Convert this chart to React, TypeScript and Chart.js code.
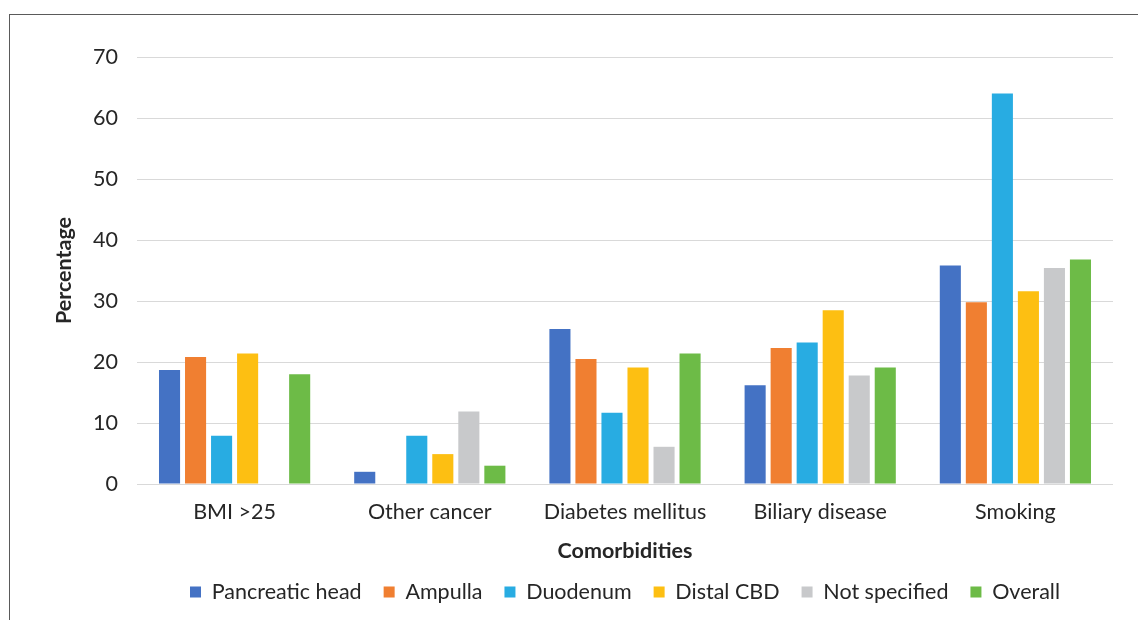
import React, { useEffect, useRef } from "react";
import { Chart, registerables } from "chart.js";

Chart.register(...registerables);

const categories = ["BMI >25", "Other cancer", "Diabetes mellitus", "Biliary disease", "Smoking"];

const pancreaticHead = [18.7, 2.0, 25.4, 16.2, 35.8];
const ampulla = [20.8, 0, 20.5, 22.3, 29.8];
const duodenum = [7.9, 7.9, 11.7, 23.2, 64.0];
const distalCBD = [21.4, 4.9, 19.1, 28.5, 31.6];
const notSpecified = [0, 11.9, 6.1, 17.8, 35.4];
const overall = [18.0, 3.0, 21.4, 19.1, 36.8];

const seriesNames = ["Pancreatic head", "Ampulla", "Duodenum", "Distal CBD", "Not specified", "Overall"];
const seriesColors = ["#4472C4", "#F07F31", "#28ACE2", "#FDBF12", "#C8C9CB", "#6DBB47"];
const seriesValues = [pancreaticHead, ampulla, duodenum, distalCBD, notSpecified, overall];

const yTicks = { min: 0, max: 70, step: 10 };

const FONT = "Lato, 'Open Sans', sans-serif";
const TEXT = "#262626";
const SIZE = 21.5;

export default function App() {
  const canvasRef = useRef<HTMLCanvasElement | null>(null);

  useEffect(() => {
    if (!canvasRef.current) return;
    const chart = new Chart(canvasRef.current, {
      type: "bar",
      data: {
        labels: categories,
        datasets: seriesNames.map((name, i) => ({
          label: name,
          data: seriesValues[i],
          backgroundColor: seriesColors[i],
          borderWidth: 0,
          categoryPercentage: 0.8,
          barPercentage: 0.81,
        })),
      },
      options: {
        responsive: false,
        animation: false,
        layout: { padding: { top: 42, left: 0, right: 127, bottom: 2.25 } },
        plugins: {
          tooltip: { enabled: false },
          legend: {
            position: "bottom",
            fullSize: false,
            labels: {
              boxWidth: 11,
              boxHeight: 11,
              padding: 22,
              color: TEXT,
              font: { family: FONT, size: SIZE },
            },
          },
        },
        scales: {
          x: {
            grid: { display: false, drawTicks: false },
            border: { display: false },
            ticks: { color: TEXT, padding: 15, font: { family: FONT, size: SIZE } },
            title: {
              display: true,
              text: "Comorbidities",
              color: TEXT,
              font: { family: FONT, size: SIZE, weight: "bold" },
              padding: { top: 0, bottom: -4.65 },
            },
            afterFit: (scale: any) => {
              scale.height = 75.25;
            },
          },
          y: {
            min: yTicks.min,
            max: yTicks.max,
            grid: { color: "#D9D9D9", lineWidth: 1, drawTicks: false },
            border: { display: false },
            ticks: {
              stepSize: yTicks.step,
              color: TEXT,
              padding: 19,
              font: { family: FONT, size: SIZE },
            },
            title: {
              display: true,
              text: "Percentage",
              color: TEXT,
              font: { family: FONT, size: SIZE, weight: "bold" },
              padding: { top: 41, bottom: 0 },
            },
            afterFit: (scale: any) => {
              scale.width = 127;
            },
          },
        },
      },
    });
    return () => chart.destroy();
  }, []);

  return (
    <div style={{ width: 1130, height: 612, overflow: "hidden", position: "relative" }}>
      <div
        style={{
          position: "absolute",
          left: 1,
          top: 6,
          width: 1300,
          height: 700,
          border: "1px solid #5a5a5a",
          background: "#ffffff",
        }}
      >
        <canvas ref={canvasRef} width={1230} height={600} style={{ display: "block" }} />
      </div>
    </div>
  );
}
